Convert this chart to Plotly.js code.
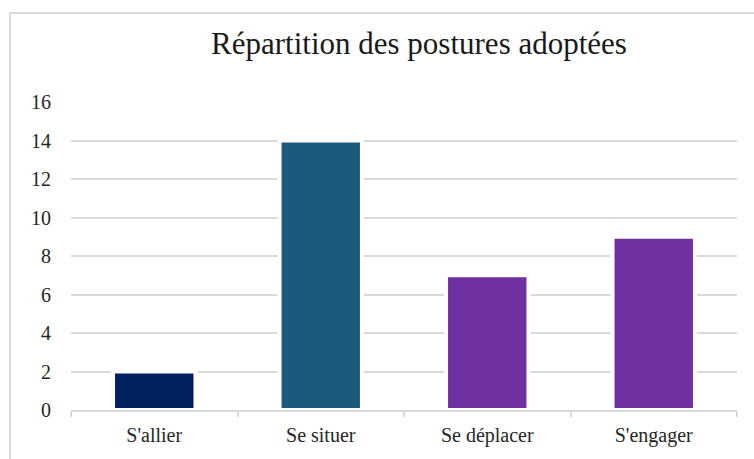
<!DOCTYPE html>
<html>
<head>
<meta charset="utf-8">
<script src="https://cdn.plot.ly/plotly-3.0.1.min.js"></script>
<style>
html,body{margin:0;padding:0;background:#fff;}
#chart{width:754px;height:459px;}
</style>
</head>
<body>
<div id="chart"></div>
<script>
const categories = ["S'allier", "Se situer", "Se déplacer", "S'engager"];
const values = [2, 14, 7, 9];
const colors = ["#002060", "#1b5a7a", "#7030a0", "#7030a0"];
const yTicks = [0, 2, 4, 6, 8, 10, 12, 14, 16];

const W = 754, H = 459;
const m = {l: 71, r: 17, t: 102, b: 49};
const pw = W - m.l - m.r, ph = H - m.t - m.b;
function px2x(p){ return (p - m.l) / pw; }
function py2y(p){ return (H - m.b - p) / ph; }

const SERIF = "Liberation Serif, DejaVu Serif, serif";

const trace = {
  type: 'bar',
  x: categories,
  y: values,
  marker: {color: colors, line: {width: 4, color: '#ffffff'}},
  hoverinfo: 'none'
};

const layout = {
  width: W, height: H,
  margin: m,
  paper_bgcolor: '#ffffff',
  plot_bgcolor: '#ffffff',
  showlegend: false,
  bargap: 0.505,
  font: {family: SERIF, color: '#262626'},
  title: {
    text: 'Répartition des postures adoptées',
    font: {family: SERIF, size: 31, color: '#1a1a1a'},
    x: 419 / W, xanchor: 'center',
    y: 1 - 43 / H, yanchor: 'middle'
  },
  xaxis: {
    type: 'category',
    tickson: 'boundaries',
    ticks: 'outside',
    ticklen: 5,
    tickcolor: '#d9d9d9',
    tickwidth: 2,
    showline: true,
    linecolor: '#d9d9d9',
    linewidth: 2,
    showgrid: false,
    ticklabelstandoff: 6,
    tickfont: {family: SERIF, size: 20, color: '#262626'},
    fixedrange: true
  },
  yaxis: {
    range: [0, 16],
    tickvals: yTicks,
    ticktext: yTicks.map(String),
    showgrid: true,
    gridcolor: '#d9d9d9',
    gridwidth: 2,
    zeroline: false,
    showline: false,
    ticks: '',
    ticklabelstandoff: 19,
    tickfont: {family: SERIF, size: 20, color: '#262626'},
    fixedrange: true
  },
  shapes: [{
    type: 'rect', xref: 'paper', yref: 'paper', layer: 'below',
    x0: px2x(10), x1: px2x(770),
    y0: py2y(480), y1: py2y(13),
    line: {color: '#d9d9d9', width: 2},
    fillcolor: 'rgba(0,0,0,0)'
  }]
};

Plotly.newPlot('chart', [trace], layout, {displayModeBar: false, staticPlot: true});
</script>
</body>
</html>
